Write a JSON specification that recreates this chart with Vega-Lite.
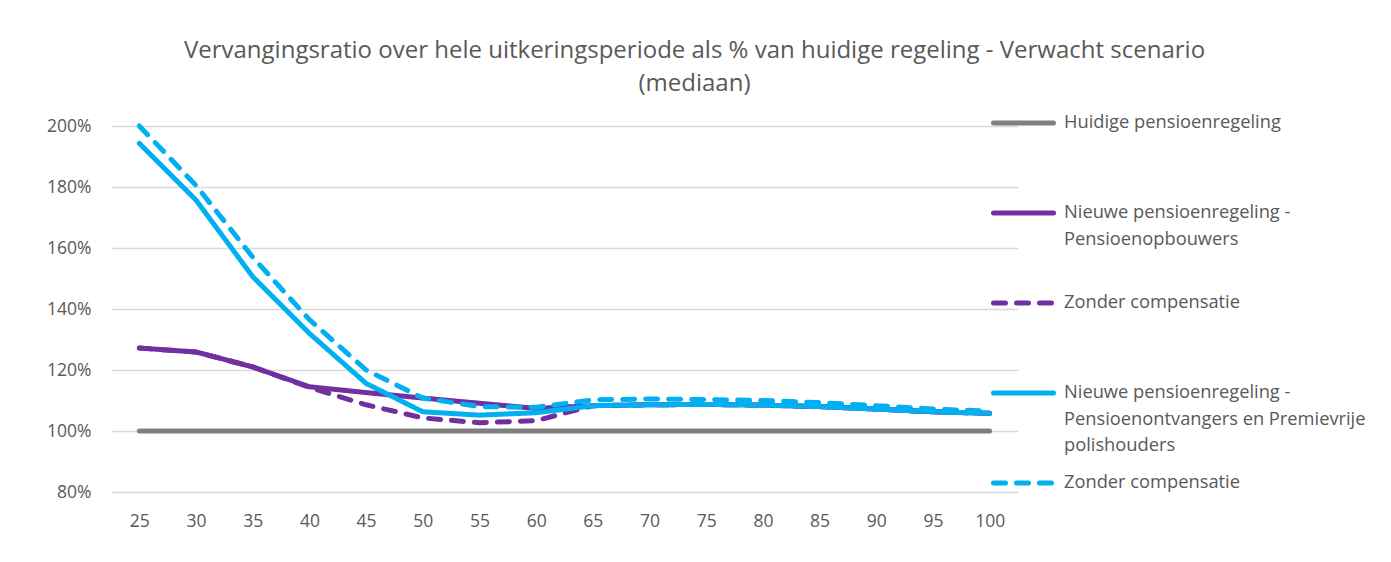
{
  "$schema": "https://vega.github.io/schema/vega-lite/v6.json",
  "width": 907,
  "height": 366,
  "autosize": {"type": "none"},
  "padding": {"left": 111, "top": 126, "right": 373, "bottom": 70},
  "background": "white",
  "title": {
    "text": ["Vervangingsratio over hele uitkeringsperiode als % van huidige regeling - Verwacht scenario", "(mediaan)"],
    "anchor": "middle",
    "frame": "group",
    "dx": 130,
    "font": "Open Sans",
    "fontSize": 24,
    "fontWeight": "normal",
    "color": "#595959",
    "lineHeight": 33,
    "offset": -1
  },
  "datasets": {
    "reeksen": [
      {"reeks": "Huidige pensioenregeling", "leeftijd": 25, "ratio": 100},
      {"reeks": "Huidige pensioenregeling", "leeftijd": 30, "ratio": 100},
      {"reeks": "Huidige pensioenregeling", "leeftijd": 35, "ratio": 100},
      {"reeks": "Huidige pensioenregeling", "leeftijd": 40, "ratio": 100},
      {"reeks": "Huidige pensioenregeling", "leeftijd": 45, "ratio": 100},
      {"reeks": "Huidige pensioenregeling", "leeftijd": 50, "ratio": 100},
      {"reeks": "Huidige pensioenregeling", "leeftijd": 55, "ratio": 100},
      {"reeks": "Huidige pensioenregeling", "leeftijd": 60, "ratio": 100},
      {"reeks": "Huidige pensioenregeling", "leeftijd": 65, "ratio": 100},
      {"reeks": "Huidige pensioenregeling", "leeftijd": 70, "ratio": 100},
      {"reeks": "Huidige pensioenregeling", "leeftijd": 75, "ratio": 100},
      {"reeks": "Huidige pensioenregeling", "leeftijd": 80, "ratio": 100},
      {"reeks": "Huidige pensioenregeling", "leeftijd": 85, "ratio": 100},
      {"reeks": "Huidige pensioenregeling", "leeftijd": 90, "ratio": 100},
      {"reeks": "Huidige pensioenregeling", "leeftijd": 95, "ratio": 100},
      {"reeks": "Huidige pensioenregeling", "leeftijd": 100, "ratio": 100},
      {"reeks": "Opbouwers", "leeftijd": 25, "ratio": 127.2},
      {"reeks": "Opbouwers", "leeftijd": 30, "ratio": 125.9},
      {"reeks": "Opbouwers", "leeftijd": 35, "ratio": 121},
      {"reeks": "Opbouwers", "leeftijd": 40, "ratio": 114.5},
      {"reeks": "Opbouwers", "leeftijd": 45, "ratio": 112.6},
      {"reeks": "Opbouwers", "leeftijd": 50, "ratio": 110.8},
      {"reeks": "Opbouwers", "leeftijd": 55, "ratio": 109.1},
      {"reeks": "Opbouwers", "leeftijd": 60, "ratio": 107.4},
      {"reeks": "Opbouwers", "leeftijd": 65, "ratio": 108.3},
      {"reeks": "Opbouwers", "leeftijd": 70, "ratio": 108.6},
      {"reeks": "Opbouwers", "leeftijd": 75, "ratio": 108.7},
      {"reeks": "Opbouwers", "leeftijd": 80, "ratio": 108.5},
      {"reeks": "Opbouwers", "leeftijd": 85, "ratio": 108},
      {"reeks": "Opbouwers", "leeftijd": 90, "ratio": 107.2},
      {"reeks": "Opbouwers", "leeftijd": 95, "ratio": 106.3},
      {"reeks": "Opbouwers", "leeftijd": 100, "ratio": 105.8},
      {"reeks": "Opbouwers zonder compensatie", "leeftijd": 25, "ratio": 127.2},
      {"reeks": "Opbouwers zonder compensatie", "leeftijd": 30, "ratio": 125.9},
      {"reeks": "Opbouwers zonder compensatie", "leeftijd": 35, "ratio": 121},
      {"reeks": "Opbouwers zonder compensatie", "leeftijd": 40, "ratio": 114.3},
      {"reeks": "Opbouwers zonder compensatie", "leeftijd": 45, "ratio": 108.6},
      {"reeks": "Opbouwers zonder compensatie", "leeftijd": 50, "ratio": 104.3},
      {"reeks": "Opbouwers zonder compensatie", "leeftijd": 55, "ratio": 102.7},
      {"reeks": "Opbouwers zonder compensatie", "leeftijd": 60, "ratio": 103.4},
      {"reeks": "Opbouwers zonder compensatie", "leeftijd": 65, "ratio": 108.3},
      {"reeks": "Opbouwers zonder compensatie", "leeftijd": 70, "ratio": 108.6},
      {"reeks": "Opbouwers zonder compensatie", "leeftijd": 75, "ratio": 108.7},
      {"reeks": "Opbouwers zonder compensatie", "leeftijd": 80, "ratio": 108.5},
      {"reeks": "Opbouwers zonder compensatie", "leeftijd": 85, "ratio": 108},
      {"reeks": "Opbouwers zonder compensatie", "leeftijd": 90, "ratio": 107.2},
      {"reeks": "Opbouwers zonder compensatie", "leeftijd": 95, "ratio": 106.3},
      {"reeks": "Opbouwers zonder compensatie", "leeftijd": 100, "ratio": 105.8},
      {"reeks": "Ontvangers", "leeftijd": 25, "ratio": 194.3},
      {"reeks": "Ontvangers", "leeftijd": 30, "ratio": 175.7},
      {"reeks": "Ontvangers", "leeftijd": 35, "ratio": 150.6},
      {"reeks": "Ontvangers", "leeftijd": 40, "ratio": 132},
      {"reeks": "Ontvangers", "leeftijd": 45, "ratio": 115.6},
      {"reeks": "Ontvangers", "leeftijd": 50, "ratio": 106.3},
      {"reeks": "Ontvangers", "leeftijd": 55, "ratio": 105.2},
      {"reeks": "Ontvangers", "leeftijd": 60, "ratio": 106},
      {"reeks": "Ontvangers", "leeftijd": 65, "ratio": 108.3},
      {"reeks": "Ontvangers", "leeftijd": 70, "ratio": 108.6},
      {"reeks": "Ontvangers", "leeftijd": 75, "ratio": 108.7},
      {"reeks": "Ontvangers", "leeftijd": 80, "ratio": 108.5},
      {"reeks": "Ontvangers", "leeftijd": 85, "ratio": 108},
      {"reeks": "Ontvangers", "leeftijd": 90, "ratio": 107.2},
      {"reeks": "Ontvangers", "leeftijd": 95, "ratio": 106.3},
      {"reeks": "Ontvangers", "leeftijd": 100, "ratio": 105.8},
      {"reeks": "Ontvangers zonder compensatie", "leeftijd": 25, "ratio": 200},
      {"reeks": "Ontvangers zonder compensatie", "leeftijd": 30, "ratio": 180.5},
      {"reeks": "Ontvangers zonder compensatie", "leeftijd": 35, "ratio": 157},
      {"reeks": "Ontvangers zonder compensatie", "leeftijd": 40, "ratio": 136.5},
      {"reeks": "Ontvangers zonder compensatie", "leeftijd": 45, "ratio": 120},
      {"reeks": "Ontvangers zonder compensatie", "leeftijd": 50, "ratio": 110.8},
      {"reeks": "Ontvangers zonder compensatie", "leeftijd": 55, "ratio": 108},
      {"reeks": "Ontvangers zonder compensatie", "leeftijd": 60, "ratio": 107.8},
      {"reeks": "Ontvangers zonder compensatie", "leeftijd": 65, "ratio": 110.2},
      {"reeks": "Ontvangers zonder compensatie", "leeftijd": 70, "ratio": 110.5},
      {"reeks": "Ontvangers zonder compensatie", "leeftijd": 75, "ratio": 110.3},
      {"reeks": "Ontvangers zonder compensatie", "leeftijd": 80, "ratio": 110},
      {"reeks": "Ontvangers zonder compensatie", "leeftijd": 85, "ratio": 109.3},
      {"reeks": "Ontvangers zonder compensatie", "leeftijd": 90, "ratio": 108.3},
      {"reeks": "Ontvangers zonder compensatie", "leeftijd": 95, "ratio": 107.2},
      {"reeks": "Ontvangers zonder compensatie", "leeftijd": 100, "ratio": 106.5}
    ]
  },
  "data": {"name": "reeksen"},
  "mark": {"type": "line", "strokeWidth": 5, "strokeCap": "round", "strokeJoin": "round"},
  "encoding": {
    "x": {
      "field": "leeftijd",
      "type": "quantitative",
      "scale": {"domain": [22.5, 102.5], "nice": false, "zero": false},
      "axis": {
        "values": [25, 30, 35, 40, 45, 50, 55, 60, 65, 70, 75, 80, 85, 90, 95, 100],
        "title": null,
        "grid": false,
        "domain": false,
        "ticks": false,
        "labelPadding": 20,
        "labelFont": "Open Sans",
        "labelFontSize": 17.5,
        "labelColor": "#595959"
      }
    },
    "y": {
      "field": "ratio",
      "type": "quantitative",
      "scale": {"domain": [80, 200], "nice": false, "zero": false},
      "axis": {
        "values": [80, 100, 120, 140, 160, 180, 200],
        "labelExpr": "datum.value + '%'",
        "title": null,
        "grid": true,
        "gridColor": "#D9D9D9",
        "gridWidth": 1.5,
        "domain": false,
        "ticks": false,
        "labelPadding": 20,
        "labelFont": "Open Sans",
        "labelFontSize": 17.5,
        "labelColor": "#595959"
      }
    },
    "color": {
      "field": "reeks",
      "type": "nominal",
      "scale": {
        "domain": ["Huidige pensioenregeling", "Opbouwers", "Opbouwers zonder compensatie", "Ontvangers", "Ontvangers zonder compensatie"],
        "range": ["#7F7F7F", "#7030A0", "#7030A0", "#00B0F0", "#00B0F0"]
      },
      "legend": {
        "orient": "none",
        "legendX": 880,
        "legendY": -31,
        "title": null,
        "symbolType": "stroke",
        "symbolSize": 3600,
        "symbolStrokeWidth": 5,
        "labelFont": "Open Sans",
        "labelFontSize": 18.3,
        "labelColor": "#595959",
        "labelLimit": 400,
        "labelOffset": 8,
        "gridAlign": "all",
        "rowPadding": 0,
        "encode": {
          "labels": {"update": {"lineHeight": {"value": 26.5}, "y": {"value": 28}}},
          "symbols": {"update": {"y": {"value": 28}, "strokeCap": {"value": "round"}}}
        },
        "labelExpr": "datum.value == 'Opbouwers' ? ['Nieuwe pensioenregeling -', 'Pensioenopbouwers'] : datum.value == 'Ontvangers' ? ['Nieuwe pensioenregeling -', 'Pensioenontvangers en Premievrije', 'polishouders'] : datum.value == 'Huidige pensioenregeling' ? 'Huidige pensioenregeling' : 'Zonder compensatie'"
      }
    },
    "strokeDash": {
      "field": "reeks",
      "type": "nominal",
      "scale": {
        "domain": ["Huidige pensioenregeling", "Opbouwers", "Opbouwers zonder compensatie", "Ontvangers", "Ontvangers zonder compensatie"],
        "range": [[1, 0], [1, 0], [12, 11], [1, 0], [12, 11]]
      }
    }
  },
  "config": {"view": {"stroke": null}}
}
